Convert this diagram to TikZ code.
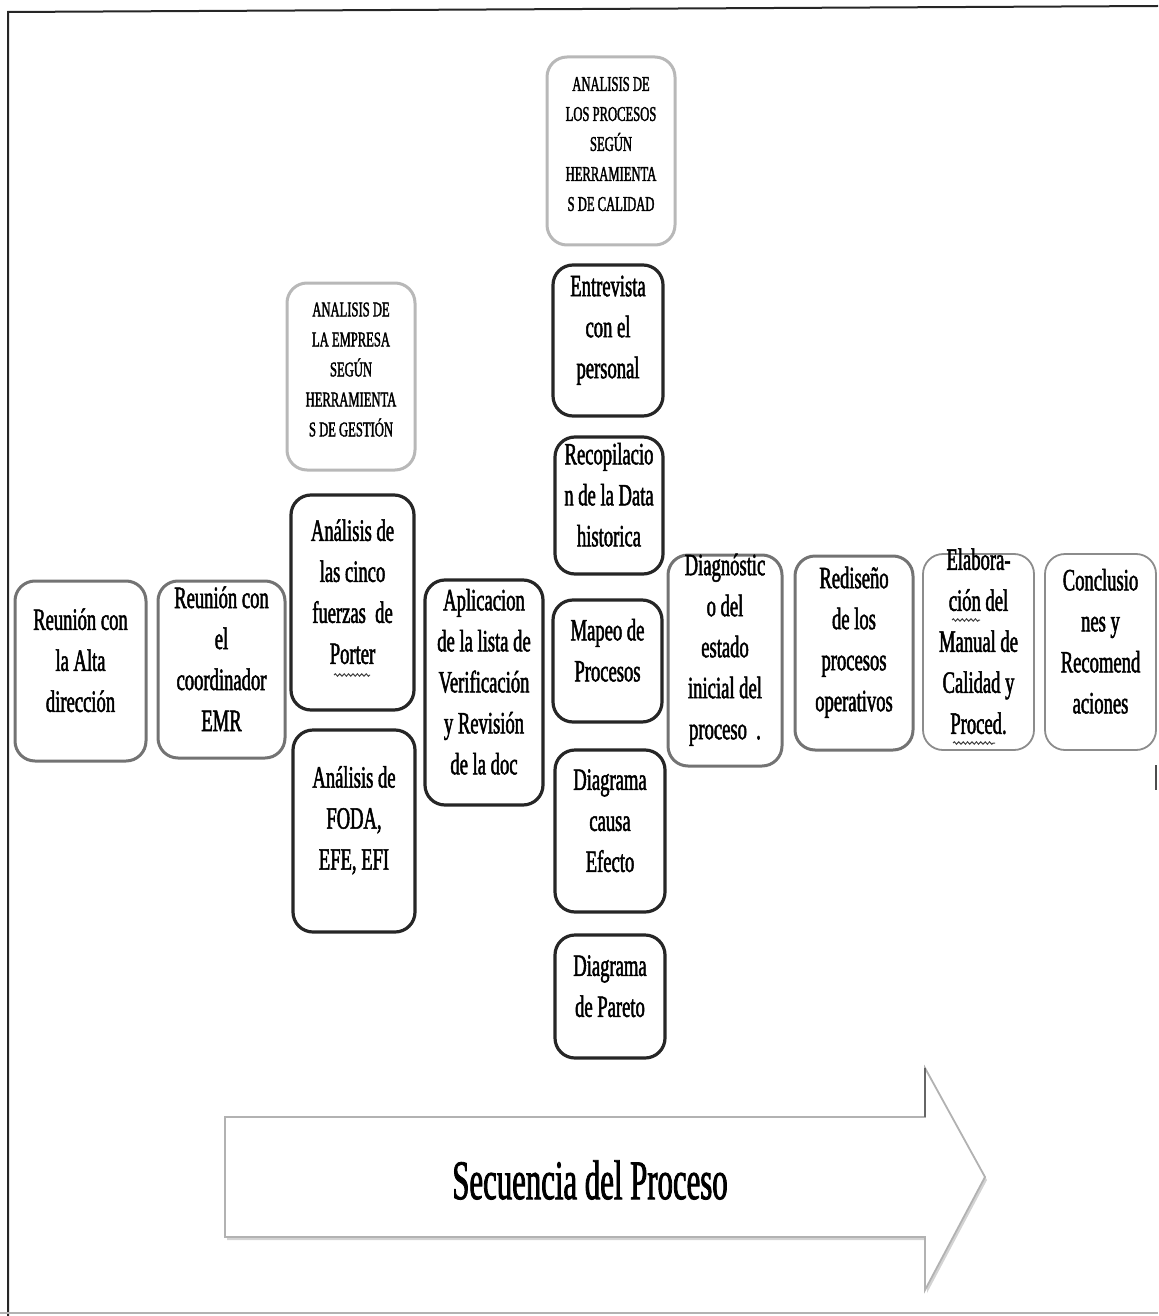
\documentclass[tikz,border=0pt]{standalone}
\usepackage{fontspec}
\usetikzlibrary{fit,shadows,decorations.pathmorphing}
\setmainfont{Liberation Serif}
% condensed serif faces for the step boxes, the tool boxes and the arrow title
\newfontfamily\boxfont[FakeStretch=0.6,FakeBold=1.6]{Liberation Serif}
\newfontfamily\capsfont[FakeStretch=0.6,FakeBold=1.6]{Liberation Serif}
\newfontfamily\titlefont[FakeStretch=0.55,FakeBold=1.4]{Liberation Serif}

\tikzset{
  stepbase/.style={rounded corners=10pt, inner sep=0pt, align=center, fill=white,
    font=\boxfont\fontsize{15.5}{20.5}\selectfont},
  darkbox/.style={stepbase, draw=black!85, line width=1.6pt},
  graybox/.style={stepbase, draw=black!55, line width=1.5pt},
  softbox/.style={stepbase, draw=black!45, line width=0.9pt},
  toolbox/.style={stepbase, draw=black!28, line width=1.5pt,
    font=\capsfont\fontsize{10.5}{15}\selectfont},
  seqarrow/.style={draw=black!30, line width=0.9pt, fill=white,
    drop shadow={opacity=0.35, shadow xshift=1pt, shadow yshift=-1.5pt}},
  squiggle/.style={draw=black!75, line width=0.5pt, decorate,
    decoration={snake, amplitude=0.6pt, segment length=2.2pt}},
}

\begin{document}
\begin{tikzpicture}[x=0.5pt, y=-0.5pt]
\useasboundingbox (0,0) rectangle (1158,1316);

% page frame
\draw[black!85, line width=1pt] (8,1316) -- (8,12) -- (1158,6);
\draw[black!30, line width=0.8pt] (0,1313) -- (1158,1313);
\draw[black!70, line width=1pt] (1156,765) -- (1156,790);

% first meetings
\node[graybox, fit={(15,581) (146,761)}] (alta) {Reunión con\\la Alta\\dirección};
\node[graybox, fit={(158,581) (285,758)}] (coord) {Reunión con\\el\\coordinador\\EMR};

% management analysis column
\node[toolbox, fit={(287,283) (415,470)}] (gestion)
  {ANALISIS DE\\LA EMPRESA\\SEGÚN\\HERRAMIENTA\\S DE GESTIÓN};
\node[darkbox, fit={(291,495) (414,710)}] (porter)
  {Análisis de\\las cinco\\fuerzas\ \ de\\Porter};
\node[darkbox, fit={(293,730) (415,932)}] (foda) {Análisis de\\FODA,\\EFE, EFI};

% checklist
\node[darkbox, fit={(425,580) (543,805)}] (lista)
  {Aplicacion\\de la lista de\\Verificación\\y Revisión\\de la doc};

% quality tools column
\node[toolbox, fit={(547,57) (675,245)}] (calidad)
  {ANALISIS DE\\LOS PROCESOS\\SEGÚN\\HERRAMIENTA\\S DE CALIDAD};
\node[darkbox, fit={(553,265) (663,416)}] (entrevista) {Entrevista\\con el\\personal};
\node[darkbox, fit={(555,437) (663,574)}] (data) {Recopilacio\\n de la Data\\historica};
\node[darkbox, fit={(553,600) (662,722)}] (mapeo) {Mapeo de\\Procesos};
\node[darkbox, fit={(555,750) (665,912)}] (ishikawa) {Diagrama\\causa\\Efecto};
\node[darkbox, fit={(555,935) (665,1058)}] (pareto) {Diagrama\\de Pareto};

% closing steps
\node[graybox, fit={(668,555) (782,766)}] (diag)
  {Diagnóstic\\o del\\estado\\inicial del\\proceso\ \ .};
\node[graybox, fit={(795,556) (913,750)}] (redis) {Rediseño\\de los\\procesos\\operativos};
\node[softbox, fit={(923,554) (1034,750)}] (manual)
  {Elabora-\\ción del\\Manual de\\Calidad y\\Proced.};
\node[softbox, fit={(1045,554) (1156,750)}] (concl) {Conclusio\\nes y\\Recomend\\aciones};

% spell-check marks under a few words
\draw[squiggle] (334,675) -- (370,675);
\draw[squiggle] (952,620) -- (980,620);
\draw[squiggle] (953,743) -- (995,743);

% process direction arrow
\draw[seqarrow] (225,1117) -- (925,1117) -- (925,1068) -- (985,1177)
  -- (925,1290) -- (925,1237) -- (225,1237) -- cycle;
\draw[black!60, line width=1pt] (925,1068) -- (925,1117);
\node[font=\titlefont\fontsize{28}{30}\selectfont] (seq) at (590,1180) {Secuencia del Proceso};
\end{tikzpicture}
\end{document}
